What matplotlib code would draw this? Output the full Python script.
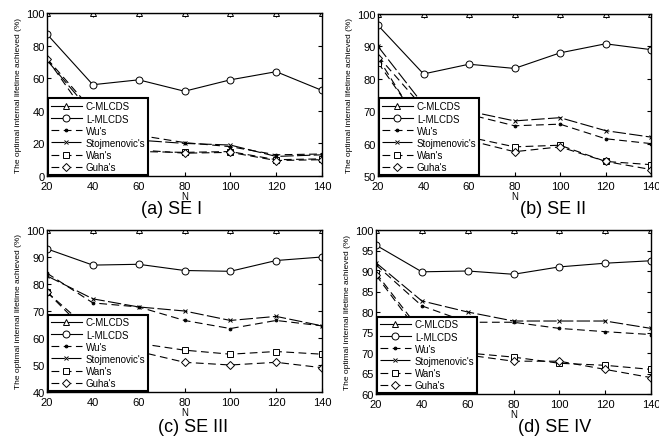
import matplotlib
matplotlib.use("Agg")
import matplotlib.pyplot as plt

plt.rcParams['font.family'] = ['Liberation Sans', 'DejaVu Sans']

# datos
N = [20, 40, 60, 80, 100, 120, 140]
series_names = ["C-MLCDS", "L-MLCDS", "Wu's", "Stojmenovic's", "Wan's", "Guha's"]

se1_c = [100, 100, 100, 100, 100, 100, 100]
se1_l = [87, 56, 59, 52, 59, 64, 52.5]
se1_wu = [72, 40, 25, 20.5, 18, 13, 13.5]
se1_st = [71, 38, 22, 20, 19, 12, 13]
se1_wan = [35, 20, 15, 14.5, 15, 10, 10.5]
se1_guha = [72, 32, 16, 14, 14.5, 9.5, 10]

se2_c = [100, 100, 100, 100, 100, 100, 100]
se2_l = [96.5, 81.5, 84.5, 83.2, 88, 90.8, 89]
se2_wu = [87, 71, 69, 65.5, 66, 61.5, 60]
se2_st = [90, 72, 70, 67, 68, 64, 62]
se2_wan = [85, 65, 62, 59, 59.5, 54.5, 53.5]
se2_guha = [86.5, 64, 61, 57.5, 59, 54.5, 52]

se3_c = [100, 100, 100, 100, 100, 100, 100]
se3_l = [93, 87, 87.3, 85, 84.7, 88.7, 90]
se3_wu = [84, 73, 71.5, 66.5, 63.5, 66.5, 64.5]
se3_st = [83, 74.5, 71.5, 70, 66.5, 68, 64.5]
se3_wan = [77, 62, 58, 55.5, 54, 55, 54]
se3_guha = [77, 60, 55, 51, 50, 51, 49]

se4_c = [100, 100, 100, 100, 100, 100, 100]
se4_l = [96.3, 89.8, 90, 89.2, 91, 91.9, 92.5]
se4_wu = [91.5, 81.5, 77.5, 77.5, 76, 75.2, 74.5]
se4_st = [92, 82.7, 80, 77.8, 77.8, 77.8, 76]
se4_wan = [89.5, 75, 70, 69, 67.5, 67, 66]
se4_guha = [89, 74, 69.5, 68, 68, 66, 64]

paneles = [
    ("(a) SE I", [se1_c, se1_l, se1_wu, se1_st, se1_wan, se1_guha], (0, 100), [0, 20, 40, 60, 80, 100]),
    ("(b) SE II", [se2_c, se2_l, se2_wu, se2_st, se2_wan, se2_guha], (50, 100), [50, 60, 70, 80, 90, 100]),
    ("(c) SE III", [se3_c, se3_l, se3_wu, se3_st, se3_wan, se3_guha], (40, 100), [40, 50, 60, 70, 80, 90, 100]),
    ("(d) SE IV", [se4_c, se4_l, se4_wu, se4_st, se4_wan, se4_guha], (60, 100), [60, 65, 70, 75, 80, 85, 90, 95, 100]),
]

estilos = [
    dict(ls='-', marker='^', ms=5, mfc='white'),
    dict(ls='-', marker='o', ms=5, mfc='white'),
    dict(ls=(0, (7, 4)), marker='.', ms=4),
    dict(ls=(0, (12, 3)), marker='x', ms=3),
    dict(ls=(0, (7, 4)), marker='s', ms=5, mfc='white'),
    dict(ls=(0, (7, 4)), marker='D', ms=4, mfc='white'),
]

# posiciones de ejes en pixeles: izquierda, arriba, derecha, abajo
cajas = [(47, 14, 322, 177), (378, 15, 651, 177), (47, 231, 322, 393), (376, 231, 651, 395)]
titulos_xy = [(172, 210), (553, 210), (193, 428), (555, 428)]

W, H = 659, 439
fig = plt.figure(figsize=(W / 100, H / 100), dpi=100)

for (titulo, datos, ylim, yticks), caja, txy in zip(paneles, cajas, titulos_xy):
    l, t, r, b = caja
    ax = fig.add_axes([l / W, 1 - b / H, (r - l) / W, (b - t) / H])
    for nombre, y, st in zip(series_names, datos, estilos):
        ax.plot(N, y, color='black', lw=0.8, mec='black', mew=0.7, label=nombre, **st)
    ax.set_xlim(20, 140)
    ax.set_ylim(*ylim)
    ax.set_xticks(N)
    ax.set_yticks(yticks)
    ax.tick_params(direction='in', top=True, right=True, labelsize=8, length=3)
    ax.tick_params(axis='x', pad=3.5)
    ax.tick_params(axis='y', pad=1.5)
    for s in ax.spines.values():
        s.set_linewidth(1.0)
    ax.set_xlabel("N", fontsize=7, labelpad=0)
    ax.set_ylabel("The optimal internal lifetime achieved (%)", fontsize=6, labelpad=3)
    leg = ax.legend(loc='lower left', fontsize=7, frameon=True, fancybox=False,
                    borderaxespad=0.1, handlelength=3.2, labelspacing=0.22,
                    borderpad=0.3, handletextpad=0.4)
    leg.get_frame().set_edgecolor('black')
    leg.get_frame().set_linewidth(1.5)
    leg.get_frame().set_alpha(1)
    fig.text(txy[0] / W, 1 - txy[1] / H, titulo, fontsize=13, ha='center', va='center')

fig.savefig("out.png", dpi=100)
